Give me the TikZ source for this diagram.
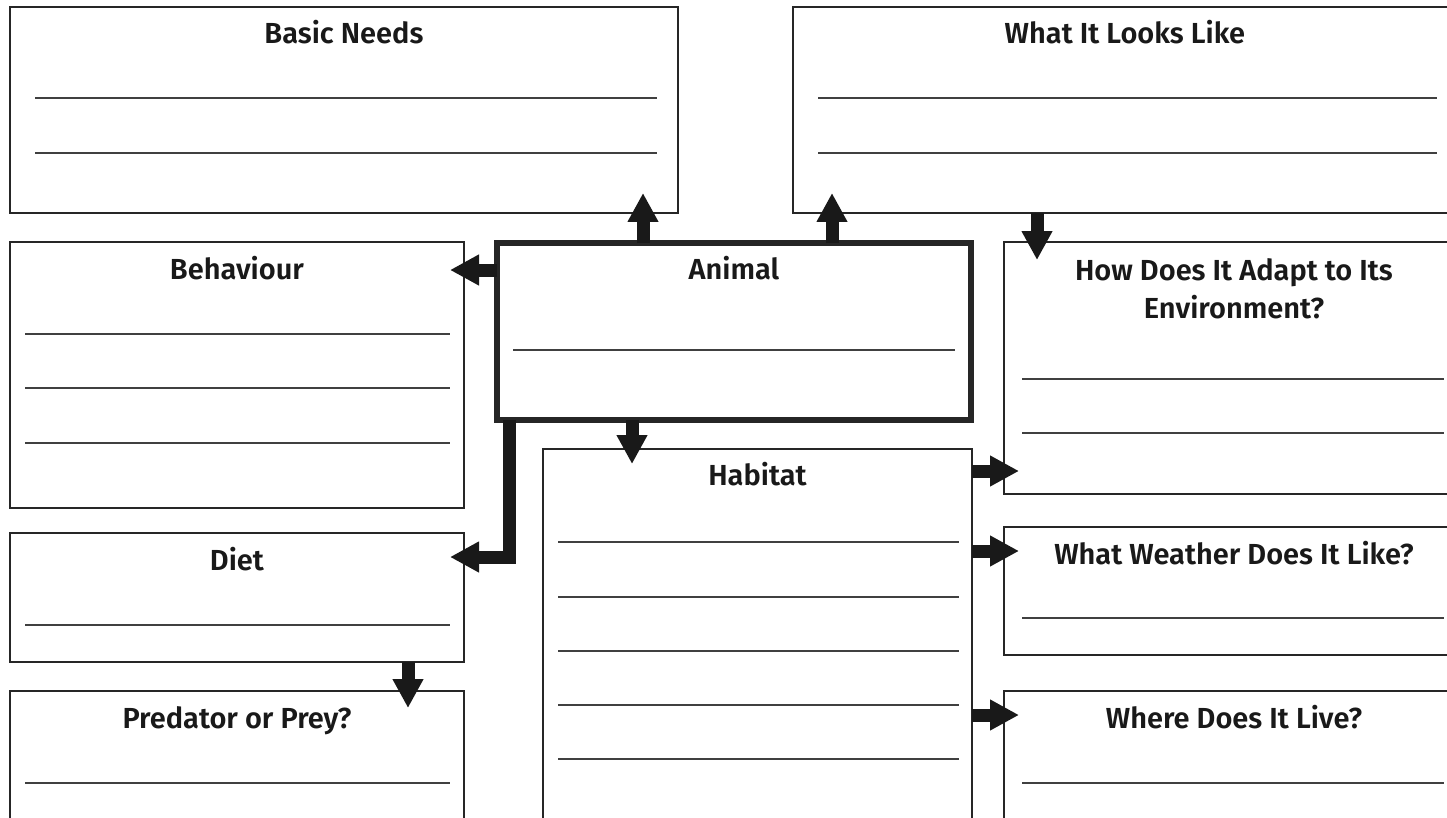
\documentclass[tikz,border=0pt]{standalone}
\usepackage{fontspec}
\setmainfont{Fira Sans}[BoldFont={* SemiBold}]
\usetikzlibrary{arrows.meta}
\tikzset{
	panel/.style={draw=black!85, line width=0.8pt, rectangle, anchor=north west, inner sep=0pt, outer sep=0pt},
	ttl/.style={anchor=base, inner sep=0pt, align=center, text=black!90, font=\fontsize{16.5}{21.5}\selectfont\bfseries},
	rule/.style={draw=black!75, line width=0.8pt},
	blk/.style={draw=black!90, line width=7.4pt, line join=miter, -{Triangle[width=0.58cm,length=0.58cm]}}
}
\begin{document}
\begin{tikzpicture}[x=0.02cm, y=-0.02cm]
		\clip (0,0) rectangle (1447,818);
		\fill[white] (0,0) rectangle (1447,818);
		% boxes
		\node[panel, minimum width=13.36cm, minimum height=4.12cm] (needs) at (10,7) {};
		\node[panel, minimum width=13.28cm, minimum height=4.12cm] (looks) at (793,7) {};
		\node[panel, minimum width=9.08cm, minimum height=5.32cm] (behaviour) at (10,242) {};
		\node[panel, line width=3.2pt, minimum width=9.48cm, minimum height=3.54cm] (animal) at (497,243) {};
		\node[panel, minimum width=9.2cm, minimum height=5.04cm] (adapt) at (1004,242) {};
		\node[panel, minimum width=8.58cm, minimum height=8.02cm] (habitat) at (543,449) {};
		\node[panel, minimum width=9.08cm, minimum height=2.58cm] (diet) at (10,533) {};
		\node[panel, minimum width=9.2cm, minimum height=2.56cm] (weather) at (1004,527) {};
		\node[panel, minimum width=9.08cm, minimum height=3.2cm] (prey) at (10,691) {};
		\node[panel, minimum width=9.2cm, minimum height=3.2cm] (where) at (1004,691) {};
		% titles
		\node[ttl] (needst) at ([yshift=-0.73cm]needs.north) {Basic Needs};
		\node[ttl] (lookst) at ([yshift=-0.73cm]looks.north) {What It Looks Like};
		\node[ttl] (behaviourt) at ([yshift=-0.75cm]behaviour.north) {Behaviour};
		\node[ttl] (animalt) at ([yshift=-0.74cm]animal.north) {Animal};
		\node[ttl, anchor=north] (adaptt) at ([yshift=-0.33cm]adapt.north) {How Does It Adapt to Its\\Environment?};
		\node[ttl] (habitatt) at ([yshift=-0.74cm]habitat.north) {Habitat};
		\node[ttl] (diett) at ([yshift=-0.76cm]diet.north) {Diet};
		\node[ttl] (weathert) at ([yshift=-0.76cm]weather.north) {What Weather Does It Like?};
		\node[ttl] (preyt) at ([yshift=-0.74cm]prey.north) {Predator or Prey?};
		\node[ttl] (wheret) at ([yshift=-0.74cm]where.north) {Where Does It Live?};
		% writing lines
		\foreach \y in {98,153} {
			\draw[rule] (35,\y) -- (657,\y);
			\draw[rule] (818,\y) -- (1437,\y);
		}
		\foreach \y in {334,388,443} \draw[rule] (25,\y) -- (450,\y);
		\draw[rule] (513,350) -- (955,350);
		\foreach \y in {379,433} \draw[rule] (1022,\y) -- (1444,\y);
		\foreach \y in {542,597,651,705,759} \draw[rule] (558,\y) -- (959,\y);
		\draw[rule] (25,625) -- (450,625);
		\draw[rule] (1022,618) -- (1444,618);
		\draw[rule] (25,783) -- (450,783);
		\draw[rule] (1022,783) -- (1444,783);
		% arrows
		\coordinate (toneeds) at (643,193);
		\coordinate (tolooks) at (832,193);
		\coordinate (tobehaviour) at (450,270);
		\coordinate (tohabitat) at (632,464);
		\coordinate (bend) at (509,557);
		\coordinate (todiet) at (450,557);
		\coordinate (toadapt) at (1037,260);
		\coordinate (toprey) at (408,708);
		\coordinate (toadapt2) at (1019,471);
		\coordinate (toweather) at (1019,551);
		\coordinate (towhere) at (1019,715);
		\draw[blk] (animal.north -| toneeds) -- (toneeds);
		\draw[blk] (animal.north -| tolooks) -- (tolooks);
		\draw[blk] (animal.west |- tobehaviour) -- (tobehaviour);
		\draw[blk] (animal.south -| tohabitat) -- (tohabitat);
		\draw[blk] (animal.south -| bend) -- (bend) -- (todiet);
		\draw[blk] (looks.south -| toadapt) -- (toadapt);
		\draw[blk] (diet.south -| toprey) -- (toprey);
		\draw[blk] (habitat.east |- toadapt2) -- (toadapt2);
		\draw[blk] (habitat.east |- toweather) -- (toweather);
		\draw[blk] (habitat.east |- towhere) -- (towhere);
	\end{tikzpicture}
\end{document}
